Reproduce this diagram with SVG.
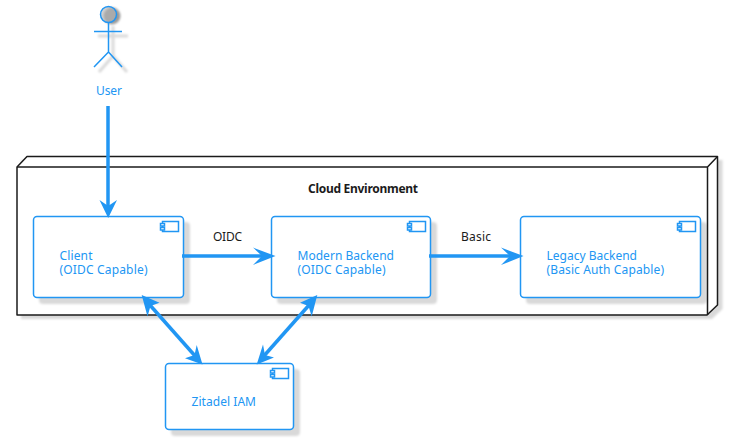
<svg xmlns="http://www.w3.org/2000/svg" width="734" height="443" viewBox="0 0 734 443">
<style>
text{font-family:"Noto Sans","DejaVu Sans",sans-serif;font-size:12px}
.b{fill:#2196f3}
.k{fill:#1b1b1b}
.box{fill:#fff;stroke:#2196f3;stroke-width:1.5}
.ic{fill:#fff;stroke:#2196f3;stroke-width:1.5}
.sh{fill:#000;fill-opacity:.15;filter:url(#blur)}
.conn{fill:none;stroke:#2196f3;stroke-width:3.500}
.head{fill:#2196f3}
.cl{fill:#fff;stroke:#1b1b1b;stroke-width:1.5;stroke-linejoin:round}
</style>
<defs>
<filter id="blur" x="-20%" y="-20%" width="140%" height="140%"><feGaussianBlur stdDeviation="1"/></filter>
</defs>
<g id="cloud">
<path class="sh" d="M21 160H722.500V309L712 319H21Z"/>
<path class="cl" d="M17 167L27 156.500H717.500V305L707 315H17Z"/>
<path class="cl" style="fill:none" d="M17 167H707.500V315M707.500 167L717.500 156.500"/>
<text x="308" y="192.800" textLength="110" class="k" style="font-weight:700">Cloud Environment</text>
</g>
<g id="user">
<circle cx="112" cy="16" r="8.500" class="sh" style="fill-opacity:.4"/>
<path d="M113 26V56M98 36H128M113 56L99 72M113 56L127 72" fill="none" stroke="#000" stroke-opacity=".15" stroke-width="3" filter="url(#blur)"/>
<circle cx="108.500" cy="14.500" r="8" fill="#b5b5b5" fill-opacity=".6" stroke="#2196f3" stroke-width="1.500"/>
<path d="M108.500 23V52M94 31.500H122M108.500 52L94 67M108.500 52L122 67" fill="none" stroke="#2196f3" stroke-width="1.500"/>
<text x="96" y="94.800" textLength="26" class="b">User</text>
</g>
<g id="client">
<rect class="sh" x="39" y="222" width="151" height="82" rx="4"/>
<rect class="box" x="33.500" y="216.500" width="150" height="81" rx="3.500"/>
<rect class="ic" x="162.500" y="221.500" width="16" height="10"/>
<rect class="ic" x="160.500" y="223.500" width="4" height="2.500"/><rect class="ic" x="160.500" y="227.500" width="4" height="2.500"/>
<text x="59.500" y="259.800" textLength="33" class="b">Client</text><text x="59.500" y="273.800" textLength="88" class="b">(OIDC Capable)</text>
</g>
<g id="modern">
<rect class="sh" x="277" y="222" width="160" height="82" rx="4"/>
<rect class="box" x="271.500" y="216.500" width="159" height="81" rx="3.500"/>
<rect class="ic" x="409.500" y="221.500" width="16" height="10"/>
<rect class="ic" x="407.500" y="223.500" width="4" height="2.500"/><rect class="ic" x="407.500" y="227.500" width="4" height="2.500"/>
<text x="297.500" y="259.800" textLength="96.500" class="b">Modern Backend</text><text x="297.500" y="273.800" textLength="88" class="b">(OIDC Capable)</text>
</g>
<g id="legacy">
<rect class="sh" x="526" y="222" width="181" height="82" rx="4"/>
<rect class="box" x="520.500" y="216.500" width="180" height="81" rx="3.500"/>
<rect class="ic" x="679.500" y="221.500" width="16" height="10"/>
<rect class="ic" x="677.500" y="223.500" width="4" height="2.500"/><rect class="ic" x="677.500" y="227.500" width="4" height="2.500"/>
<text x="546.500" y="259.800" textLength="90.500" class="b">Legacy Backend</text><text x="546.500" y="273.800" textLength="117.500" class="b">(Basic Auth Capable)</text>
</g>
<g id="zitadel">
<rect class="sh" x="171" y="369" width="129" height="67" rx="4"/>
<rect class="box" x="165.500" y="363.500" width="128" height="66" rx="3.500"/>
<rect class="ic" x="272.500" y="368.500" width="16" height="10"/>
<rect class="ic" x="270.500" y="370.500" width="4" height="2.500"/><rect class="ic" x="270.500" y="374.500" width="4" height="2.500"/>
<text x="191.500" y="405.800" textLength="64.500" class="b">Zitadel IAM</text>
</g>
<g id="connectors">
<path class="conn" d="M108 106V208"/>
<path class="head" d="M108.200 218L99.500 200L108.200 206L117 200Z"/>
<path class="conn" d="M182 256H264"/>
<path class="head" d="M275.500 256L253 247.500L262 256L253 265Z"/>
<path class="conn" d="M429 256H512"/>
<path class="head" d="M523.500 256L501 247.500L510 256L501 265Z"/>
<path class="conn" d="M149 304L196 357"/>
<path class="head" d="M141.700 295L147.500 316.500L150.500 306L159.500 302.700Z"/>
<path class="head" d="M202.500 364.500L196.700 345L194.500 355L185 358.300Z"/>
<path class="conn" d="M310 304L263 357"/>
<path class="head" d="M317.300 295L311.700 316.500L308.500 306L300 302.700Z"/>
<path class="head" d="M256.700 364.500L263 344.500L265 355L274 357.500Z"/>
<text x="213" y="240.800" textLength="29" class="k">OIDC</text>
<text x="461" y="240.800" textLength="30" class="k">Basic</text>
</g>
</svg>
